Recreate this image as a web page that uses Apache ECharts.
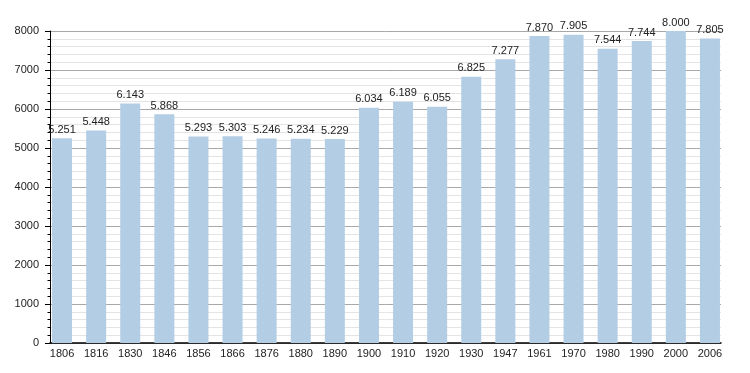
<!DOCTYPE html>
<html>
<head>
<meta charset="utf-8">
<script src="https://cdn.jsdelivr.net/npm/echarts@6/dist/echarts.min.js"></script>
<style>
html,body{margin:0;padding:0;background:#fff;}
#c{width:750px;height:373px;}
</style>
</head>
<body>
<div id="c"></div>
<script>
const years = ['1806','1816','1830','1846','1856','1866','1876','1880','1890','1900','1910','1920','1930','1947','1961','1970','1980','1990','2000','2006'];
const population = [5251,5448,6143,5868,5293,5303,5246,5234,5229,6034,6189,6055,6825,7277,7870,7905,7544,7744,8000,7805];
const yMin = 0, yMax = 8000, yInterval = 1000;

const font = 'Liberation Sans, Arial, Helvetica, sans-serif';
const chart = echarts.init(document.getElementById('c'), null, {renderer:'canvas'});
chart.setOption({
  animation:false,
  backgroundColor:'#fff',
  grid:[
    {left:50, right:29, top:31, bottom:30},
    {left:45, right:23, top:31, bottom:30}
  ],
  xAxis:[
    {gridIndex:0, type:'value', min:0, max:1,
     axisLine:{show:true, onZero:false, lineStyle:{color:'#000', width:1.5}},
     axisTick:{show:false}, axisLabel:{show:false}, splitLine:{show:false}},
    {gridIndex:1, type:'category', data:years,
     axisLine:{show:false}, axisTick:{show:false},
     axisLabel:{fontFamily:font, fontSize:11, color:'#222', margin:5, interval:0}}
  ],
  yAxis:[
    {gridIndex:0, type:'value', min:yMin, max:yMax, interval:yInterval,
     axisLine:{show:true, lineStyle:{color:'#000', width:1}},
     axisTick:{show:true, length:5, lineStyle:{color:'#000'}},
     minorTick:{show:true, splitNumber:5, length:2.5, lineStyle:{color:'#000'}},
     axisLabel:{fontFamily:font, fontSize:11, color:'#222', margin:11, formatter:v=>String(v)},
     splitLine:{show:true, lineStyle:{color:'#a8a8a8', width:1}},
     minorSplitLine:{show:true, lineStyle:{color:'#e4e4e4', width:1}}},
    {gridIndex:1, type:'value', min:yMin, max:yMax, show:false, splitLine:{show:false}}
  ],
  series:[{
    type:'bar', xAxisIndex:1, yAxisIndex:1, data:population, barWidth:20,
    itemStyle:{color:'#b3cde5'},
    label:{show:true, position:'top', distance:3, fontFamily:font, fontSize:11, color:'#222',
      formatter:p=>String(p.value).replace(/\B(?=(\d{3})+(?!\d))/g,'.')}
  }]
});
</script>
</body>
</html>
